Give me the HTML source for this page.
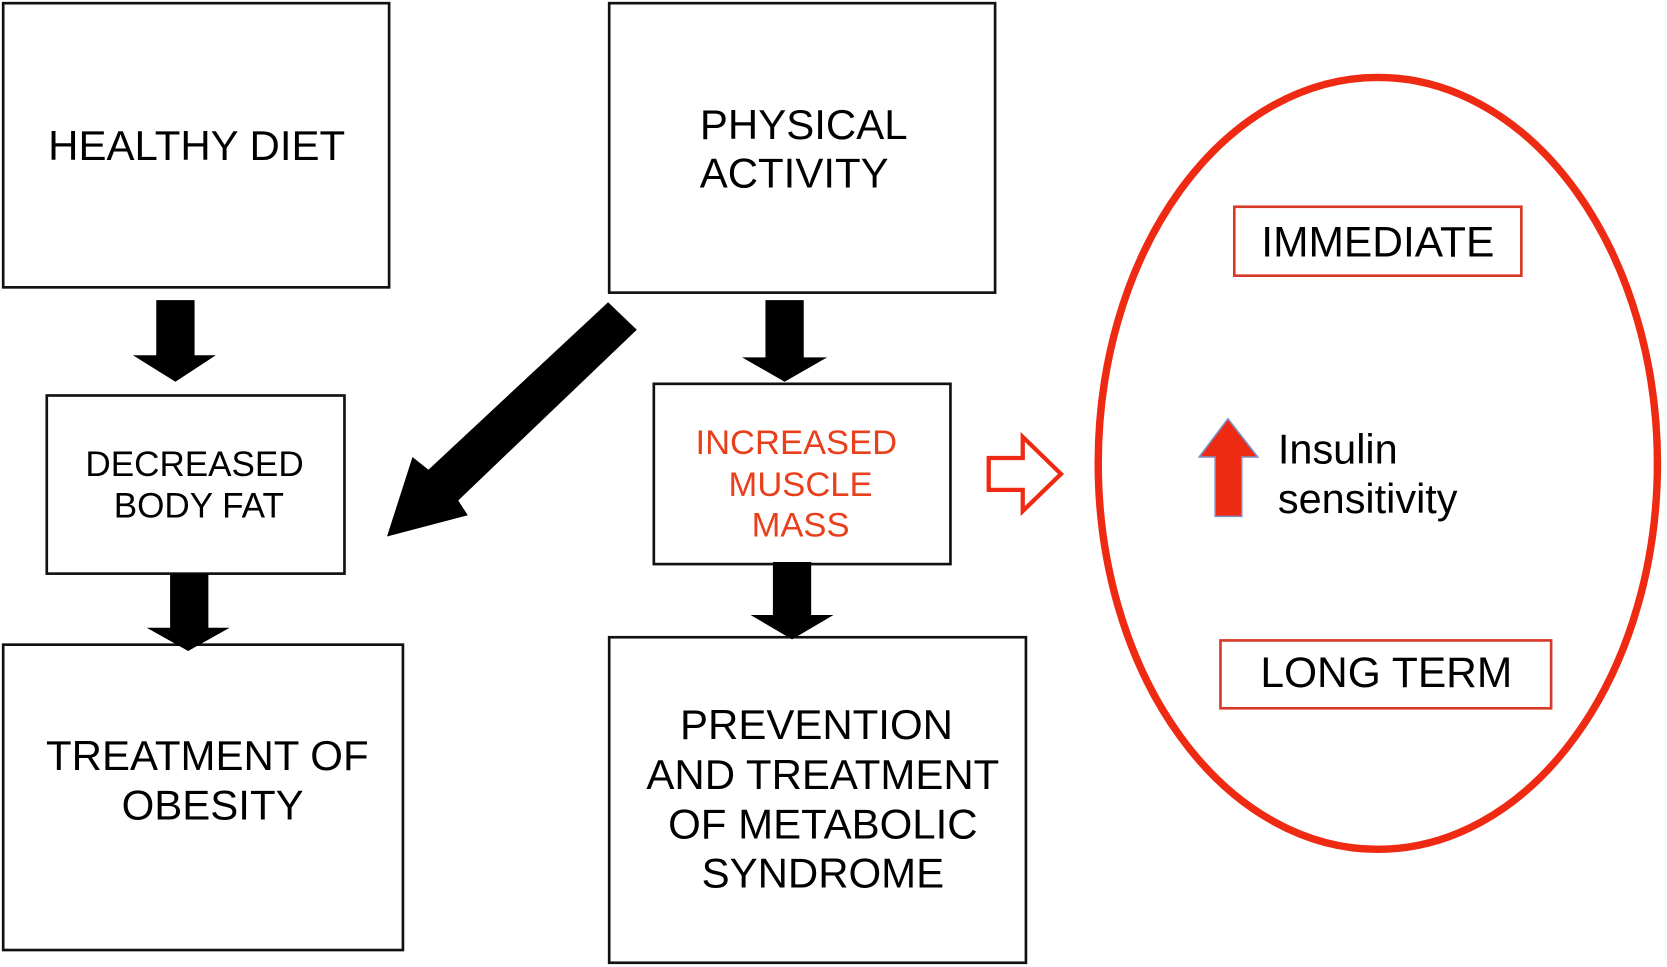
<!DOCTYPE html>
<html><head><meta charset="utf-8"><style>
html,body{margin:0;padding:0;background:#fff;}
svg{display:block;}
text{font-family:"Liberation Sans",Arial,sans-serif;}
</style></head><body>
<svg width="1667" height="967" viewBox="0 0 1568 912" preserveAspectRatio="none" xmlns="http://www.w3.org/2000/svg">
<rect width="1568" height="912" fill="#fff"/>
<g fill="none" stroke="#111" stroke-width="2.5">
<rect x="3" y="3" width="363" height="268"/>
<rect x="573" y="3" width="363" height="273"/>
<rect x="44" y="373" width="280" height="168"/>
<rect x="3" y="608" width="376" height="288"/>
<rect x="615" y="362" width="279" height="170"/>
<rect x="573" y="601" width="392" height="307"/>
</g>
<g fill="#000">
<polygon points="147,283 183,283 183,335 203,335 165,360 125,335 147,335"/>
<polygon points="160,541 196,541 196,592 216,592 177,614 138,592 160,592"/>
<polygon points="720,283 756,283 756,337 778,337 738,360 698,337 720,337"/>
<polygon points="727,530 763,530 763,580 784,580 745,603 706,580 727,580"/>
<polygon points="572,285 599,311 431,472 440,486 364,506 388,431 403,443"/>
</g>
<g font-size="39.5" fill="#000" text-anchor="middle">
<text x="185" y="151">HEALTHY DIET</text>
<text x="756" y="131">PHYSICAL</text>
<text x="747" y="177">ACTIVITY</text>
<text x="195" y="726">TREATMENT OF</text>
<text x="200" y="773">OBESITY</text>
<text x="768" y="697">PREVENTION</text>
<text x="774" y="744">AND TREATMENT</text>
<text x="774" y="791">OF METABOLIC</text>
<text x="774" y="837">SYNDROME</text>
</g>
<g font-size="33" fill="#000" text-anchor="middle">
<text x="183" y="449">DECREASED</text>
<text x="187" y="488">BODY FAT</text>
</g>
<g font-size="32.5" fill="#e8401c" text-anchor="middle">
<text x="749" y="428">INCREASED</text>
<text x="753" y="468">MUSCLE</text>
<text x="753" y="506">MASS</text>
</g>
<ellipse cx="1296" cy="437" rx="263" ry="364" fill="none" stroke="#ee2a12" stroke-width="7"/>
<rect x="1161" y="195" width="270" height="65" fill="none" stroke="#d83a2a" stroke-width="2.5"/>
<rect x="1148" y="604" width="311" height="64" fill="none" stroke="#d83a2a" stroke-width="2.5"/>
<g font-size="40" fill="#000" text-anchor="middle">
<text x="1296" y="242">IMMEDIATE</text>
<text x="1304" y="648">LONG TERM</text>
</g>
<polygon points="1143,487 1168,487 1168,431 1183,431 1155,395 1128,431 1143,431" fill="#ee2a12" stroke="#7a8ec8" stroke-width="1.5"/>
<g font-size="39" fill="#000">
<text x="1202" y="437">Insulin</text>
<text x="1202" y="484">sensitivity</text>
</g>
<polygon points="930,432 962,432 962,412 998,447 962,482 962,462 930,462" fill="#fff" stroke="#ee2a12" stroke-width="4"/>
</svg>
</body></html>
